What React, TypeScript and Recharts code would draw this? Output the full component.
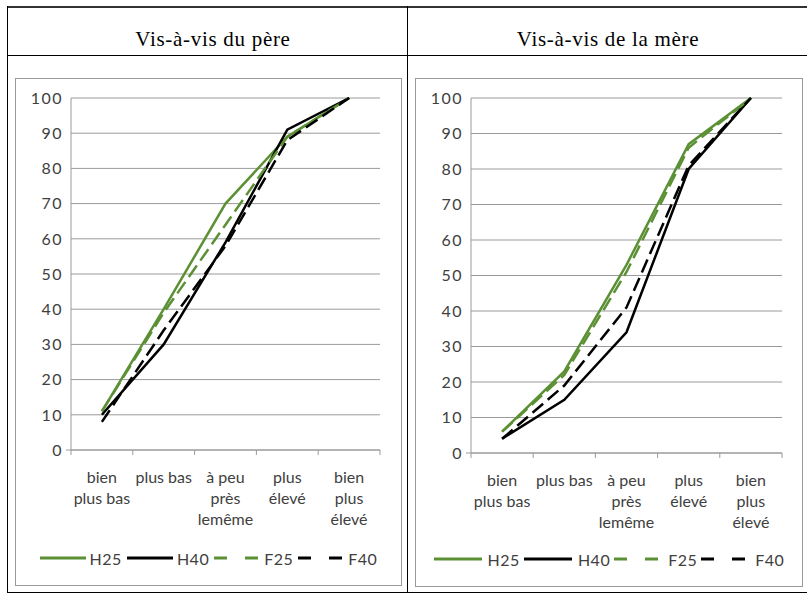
import { LineChart, Line, XAxis, YAxis, CartesianGrid, Legend } from "recharts";

// catégories de l'axe horizontal (retour à la ligne comme dans l'original)
const CATEGORIES = [
  "bien\nplus bas",
  "plus bas",
  "à peu\nprès\nlemême",
  "plus\nélevé",
  "bien\nplus\nélevé",
];
const Y_TICKS = [0, 10, 20, 30, 40, 50, 60, 70, 80, 90, 100];

// Vis-à-vis du père
const PERE_H25 = [11, 40, 70, 89, 100];
const PERE_H40 = [10, 30, 59, 91, 100];
const PERE_F25 = [11, 39, 64, 89, 100];
const PERE_F40 = [8, 34, 58, 88, 100];

// Vis-à-vis de la mère
const MERE_H25 = [6, 23, 53, 87, 100];
const MERE_H40 = [4, 15, 34, 80, 100];
const MERE_F25 = [6, 22, 51, 86, 100];
const MERE_F40 = [4, 19, 41, 81, 100];

const GREEN = "#5B9034";
const BLACK = "#000000";
const GRID = "#9a9a9a";
const TEXT = "#404040";
const FONT = "Lato, 'Open Sans', sans-serif";

const SERIES = [
  { key: "H25", color: GREEN, dash: undefined, legendDash: undefined },
  { key: "H40", color: BLACK, dash: undefined, legendDash: undefined },
  { key: "F25", color: GREEN, dash: "14 6", legendDash: "13 18" },
  { key: "F40", color: BLACK, dash: "14 6", legendDash: "13 18" },
];

const X_TICKS = CATEGORIES.flatMap((_, i) => [i, i + 0.5]).concat(CATEGORIES.length);

function buildRows(h25: number[], h40: number[], f25: number[], f40: number[]) {
  return CATEGORIES.map((c, i) => ({
    x: i + 0.5,
    name: c,
    H25: h25[i],
    H40: h40[i],
    F25: f25[i],
    F40: f40[i],
  }));
}

const XTick = (props: any) => {
  const { x, y, payload } = props;
  const v = payload.value;
  if (Number.isInteger(v)) {
    return <line x1={x} y1={y} x2={x} y2={y + 5} stroke={GRID} />;
  }
  const lines = CATEGORIES[Math.floor(v)].split("\n");
  return (
    <g>
      {lines.map((l, i) => (
        <text
          key={i}
          x={x}
          y={y + 33 + i * 21}
          textAnchor="middle"
          fill={TEXT}
          fontFamily={FONT}
          fontSize={16}
        >
          {l}
        </text>
      ))}
    </g>
  );
};

const YTick = (props: any) => {
  const { x, y, payload } = props;
  return (
    <g>
      {payload.value === 0 && <line x1={x - 5} y1={y} x2={x} y2={y} stroke={GRID} />}
      <text
        x={x - 8}
        y={y}
        dy="0.36em"
        textAnchor="end"
        fill={TEXT}
        fontFamily={FONT}
        fontSize={16}
        letterSpacing={1.5}
      >
        {payload.value}
      </text>
    </g>
  );
};

const makeLegend = (lineLen: number, gap: number, space: number) => () => (
  <div
    style={{
      display: "flex",
      justifyContent: "center",
      alignItems: "center",
      height: 30,
      fontFamily: FONT,
      fontSize: 16,
      color: TEXT,
      letterSpacing: 0.5,
    }}
  >
    {SERIES.map((s, i) => (
      <div
        key={s.key}
        style={{ display: "flex", alignItems: "center", marginLeft: i === 0 ? 0 : space }}
      >
        <svg width={lineLen} height={6}>
          <line
            x1={0}
            y1={3}
            x2={lineLen}
            y2={3}
            stroke={s.color}
            strokeWidth={3}
            strokeDasharray={s.legendDash}
          />
        </svg>
        <span style={{ marginLeft: gap }}>{s.key}</span>
      </div>
    ))}
  </div>
);

interface PanelProps {
  data: any[];
  width: number;
  height: number;
  right: number;
  yWidth: number;
  xHeight: number;
  lineLen: number;
  gap: number;
  space: number;
}

function Panel({ data, width, height, right, yWidth, xHeight, lineLen, gap, space }: PanelProps) {
  return (
    <LineChart width={width} height={height} data={data} margin={{ top: 19, right, bottom: 12, left: 0 }}>
      <CartesianGrid vertical={false} stroke={GRID} />
      <XAxis
        dataKey="x"
        type="number"
        domain={[0, CATEGORIES.length]}
        ticks={X_TICKS}
        interval={0}
        tick={<XTick />}
        tickLine={false}
        tickSize={0}
        tickMargin={0}
        height={xHeight}
        stroke={GRID}
      />
      <YAxis
        domain={[0, 100]}
        ticks={Y_TICKS}
        interval={0}
        tick={<YTick />}
        tickLine={false}
        tickSize={0}
        tickMargin={0}
        width={yWidth}
        stroke={GRID}
      />
      <Legend
        verticalAlign="bottom"
        content={makeLegend(lineLen, gap, space)}
        wrapperStyle={{ left: 0, width }}
      />
      {SERIES.map((s) => (
        <Line
          key={s.key}
          type="linear"
          dataKey={s.key}
          stroke={s.color}
          strokeWidth={2.5}
          strokeDasharray={s.dash}
          dot={false}
          isAnimationActive={false}
        />
      ))}
    </LineChart>
  );
}

const line = (style: React.CSSProperties) => (
  <div style={{ position: "absolute", background: "#000", ...style }} />
);

export default function App() {
  const pere = buildRows(PERE_H25, PERE_H40, PERE_F25, PERE_F40);
  const mere = buildRows(MERE_H25, MERE_H40, MERE_F25, MERE_F40);
  const titleStyle: React.CSSProperties = {
    position: "absolute",
    top: 27,
    width: 400,
    textAlign: "center",
    fontFamily: "'Liberation Serif', 'Times New Roman', serif",
    fontSize: 21,
    letterSpacing: 0.7,
    color: "#000",
  };
  const boxStyle: React.CSSProperties = {
    position: "absolute",
    border: "1px solid #999",
    background: "#fff",
  };
  return (
    <div style={{ position: "absolute", left: 0, top: 0, width: 807, height: 594, background: "#fff" }}>
      {line({ left: 7, top: 6, width: 800, height: 2, background: "#333" })}
      {line({ left: 7, top: 55, width: 800, height: 1 })}
      {line({ left: 7, top: 592, width: 800, height: 1 })}
      {line({ left: 7, top: 6, width: 1, height: 587 })}
      {line({ left: 407, top: 6, width: 1, height: 587 })}

      <div style={{ ...titleStyle, left: 13 }}>Vis-à-vis du père</div>
      <div style={{ ...titleStyle, left: 408 }}>Vis-à-vis de la mère</div>

      <div style={{ ...boxStyle, left: 15, top: 78, width: 385, height: 506 }}>
        <Panel data={pere} width={385} height={506} right={21} yWidth={55} xHeight={93} lineLen={46} gap={4} space={5} />
      </div>
      <div style={{ ...boxStyle, left: 415, top: 78, width: 386, height: 507 }}>
        <Panel data={mere} width={386} height={507} right={20} yWidth={55} xHeight={91} lineLen={48} gap={6} space={4} />
      </div>
    </div>
  );
}
